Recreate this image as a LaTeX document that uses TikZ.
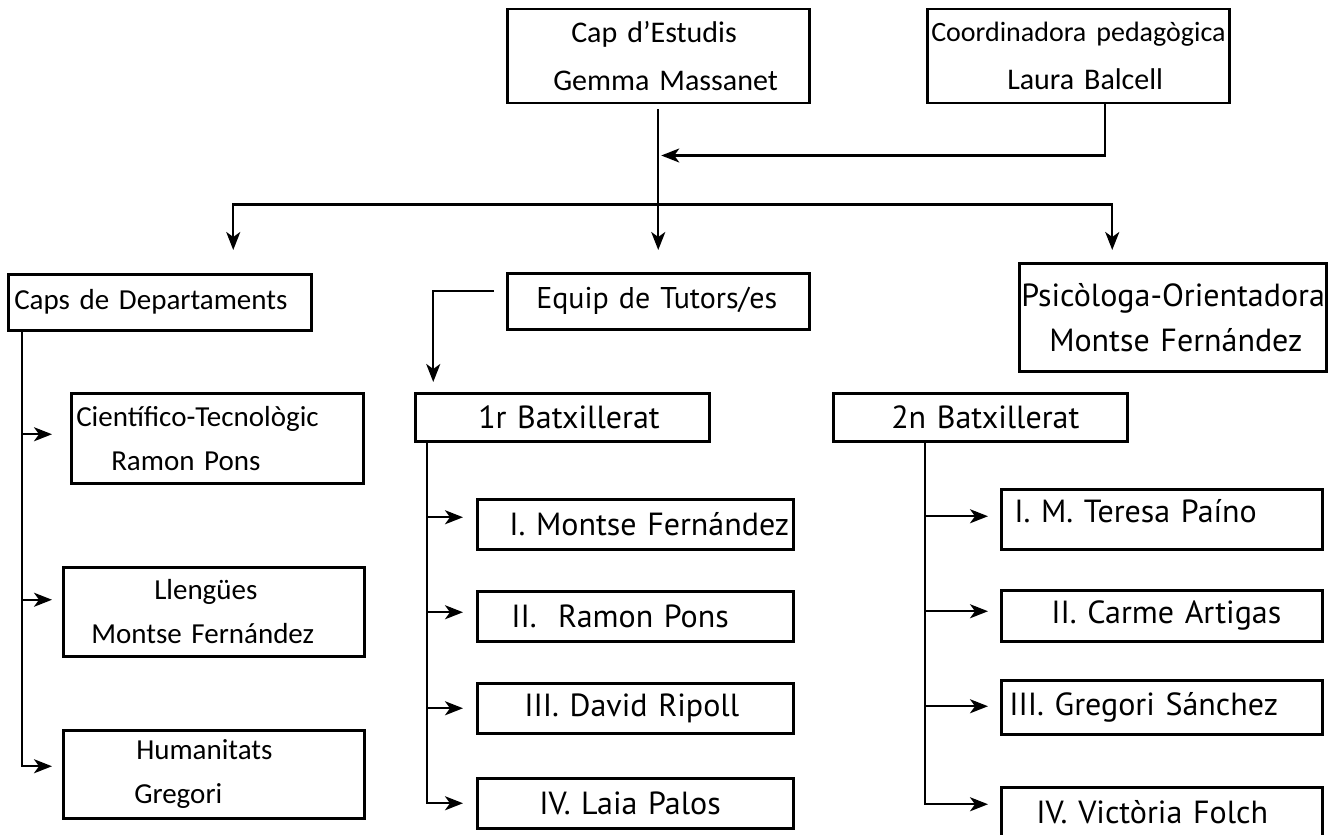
\documentclass[tikz,border=0pt]{standalone}
\usepackage{fontspec}
\newfontfamily\calfont{Carlito}
\newfontfamily\myrfont{PT Sans}
\usetikzlibrary{arrows.meta}

\begin{document}
\begin{tikzpicture}[
    x=0.5pt, y=-0.5pt,
    box/.style={draw=black, line width=1.25pt, inner sep=0pt, anchor=north west, align=left},
    cal/.style={font=\calfont\fontsize{14.5}{22}\selectfont},
    myr/.style={font=\myrfont\fontsize{16}{22.5}\selectfont},
    link/.style={draw=black, line width=1.2pt},
    flow/.style={link, -{Stealth[length=9pt,width=7pt,inset=2.5pt]}},
]
\useasboundingbox (0,0) rectangle (1331,834);

% ---------------------------------------------------------
% Top: head of studies and coordinator
% ---------------------------------------------------------
\node[box, font=\calfont\fontsize{15}{24}\selectfont,
      minimum width=151pt, minimum height=47pt, text width=151pt] (cap) at (506,8)
  {\hspace*{32pt}Cap d’Estudis\\\hspace*{23pt}Gemma Massanet};
\node[box, font=\calfont\fontsize{15}{24}\selectfont,
      minimum width=151pt, minimum height=47pt, text width=151pt] (coord) at (926,8)
  {\hspace*{2pt}{\fontsize{14}{24}\selectfont Coordinadora pedagògica}\\\hspace*{40pt}Laura Balcell};

% ---------------------------------------------------------
% Second row
% ---------------------------------------------------------
\node[box, cal, minimum width=151.5pt, minimum height=28pt, text width=151.5pt] (caps) at (7,273)
  {\hspace*{3pt}Caps de Departaments};
\node[box, myr, font=\myrfont\fontsize{15}{22.5}\selectfont,
      minimum width=151pt, minimum height=28pt, text width=151pt] (equip) at (506,272)
  {\hspace*{14.5pt}Equip de Tutors/es};
\node[box, myr, minimum width=153.5pt, minimum height=54pt, text width=153.5pt] (psico) at (1018,262)
  {\hspace*{1pt}Psicòloga-Orientadora\\\hspace*{15pt}Montse Fernández};

% ---------------------------------------------------------
% Departments
% ---------------------------------------------------------
\node[box, cal, minimum width=146pt, minimum height=45pt, text width=146pt] (cient) at (70,392)
  {\hspace*{2.5pt}Científico-Tecnològic\\\hspace*{20pt}Ramon Pons};
\node[box, cal, minimum width=150.5pt, minimum height=44.5pt, text width=150.5pt] (lleng) at (62,566)
  {\hspace*{45.5pt}Llengües\\\hspace*{14pt}Montse Fernández};
\node[box, cal, minimum width=150.5pt, minimum height=44pt, text width=150.5pt] (human) at (62,729)
  {\hspace*{36.5pt}Humanitats\\\hspace*{35.5pt}Gregori};

% ---------------------------------------------------------
% 1r Batxillerat
% ---------------------------------------------------------
\node[box, myr, minimum width=147pt, minimum height=24pt, text width=147pt] (batxA) at (414,392)
  {\hspace*{31.5pt}1r Batxillerat};
\node[box, myr, minimum width=158pt, minimum height=25pt, text width=158pt] (tA1) at (476,498)
  {\hspace*{16pt}I. Montse Fernández};
\node[box, myr, minimum width=158pt, minimum height=25pt, text width=158pt] (tA2) at (476,590)
  {\hspace*{17pt}II.\ \ Ramon Pons};
\node[box, myr, minimum width=158pt, minimum height=25pt, text width=158pt] (tA3) at (476,682)
  {\hspace*{23.5pt}III. David Ripoll};
\node[box, myr, minimum width=158pt, minimum height=25pt, text width=158pt] (tA4) at (476,777)
  {\hspace*{31pt}IV. Laia Palos};

% ---------------------------------------------------------
% 2n Batxillerat
% ---------------------------------------------------------
\node[box, myr, minimum width=147pt, minimum height=24pt, text width=147pt] (batxB) at (832,392)
  {\hspace*{29pt}2n Batxillerat};
\node[box, myr, minimum width=160.5pt, minimum height=30pt, text width=160.5pt, text depth=8pt] (tB1) at (1000,488)
  {\hspace*{6.5pt}I. M. Teresa Paíno};
\node[box, myr, minimum width=160.5pt, minimum height=25.5pt, text width=160.5pt] (tB2) at (1000,589)
  {\hspace*{25pt}II. Carme Artigas};
\node[box, myr, minimum width=160.5pt, minimum height=27pt, text width=160.5pt] (tB3) at (1000,679)
  {\hspace*{4pt}III. Gregori Sánchez};
\node[box, myr, minimum width=160.5pt, minimum height=25pt, text width=160.5pt] (tB4) at (1000,786)
  {\hspace*{17.5pt}IV. Victòria Folch};

% ---------------------------------------------------------
% Connectors from the top
% ---------------------------------------------------------
\draw[flow] ([yshift=-2.5pt]cap.south) -- ([yshift=11pt]equip.north);
\draw[flow] ([xshift=13.5pt]coord.south) |- ([xshift=1.5pt,yshift=-25.5pt]cap.south);
\coordinate (bus) at ([yshift=-50pt]cap.south);
\draw[flow] (bus) -| ([xshift=36.75pt,yshift=11.5pt]caps.north);
\draw[flow] (bus) -| ([xshift=-30.25pt,yshift=6pt]psico.north);
\draw[flow] ([xshift=-6pt,yshift=5pt]equip.west) -| ([xshift=-64.5pt,yshift=5pt]batxA.north);

% departments
\coordinate (trunkD) at ([xshift=7.5pt]caps.south west);
\coordinate (in-cient) at ([xshift=-9pt,yshift=2pt]cient.west);
\coordinate (in-lleng) at ([xshift=-5pt,yshift=6pt]lleng.west);
\coordinate (in-human) at ([xshift=-5pt,yshift=4pt]human.west);
\draw[flow] (trunkD) |- (in-human);
\foreach \n in {cient,lleng}
  {\draw[flow] (trunkD |- in-\n) -- (in-\n);}

% tutors, 1r
\coordinate (trunkA) at ([xshift=-67.5pt]batxA.south);
\coordinate (in-tA1) at ([xshift=-6.5pt,yshift=3.5pt]tA1.west);
\coordinate (in-tA2) at ([xshift=-6.5pt,yshift=2pt]tA2.west);
\coordinate (in-tA3) at ([xshift=-6.5pt]tA3.west);
\coordinate (in-tA4) at ([xshift=-6.5pt]tA4.west);
\draw[flow] (trunkA) |- (in-tA4);
\foreach \n in {tA1,tA2,tA3}
  {\draw[flow] (trunkA |- in-\n) -- (in-\n);}

% tutors, 2n
\coordinate (trunkB) at ([xshift=-27.5pt]batxB.south);
\coordinate (in-tB1) at ([xshift=-6pt,yshift=1.5pt]tB1.west);
\coordinate (in-tB2) at ([xshift=-6pt,yshift=2.25pt]tB2.west);
\coordinate (in-tB3) at ([xshift=-6pt,yshift=0.5pt]tB3.west);
\coordinate (in-tB4) at ([xshift=-6pt,yshift=4pt]tB4.west);
\draw[flow] (trunkB) |- (in-tB4);
\foreach \n in {tB1,tB2,tB3}
  {\draw[flow] (trunkB |- in-\n) -- (in-\n);}

\end{tikzpicture}
\end{document}
